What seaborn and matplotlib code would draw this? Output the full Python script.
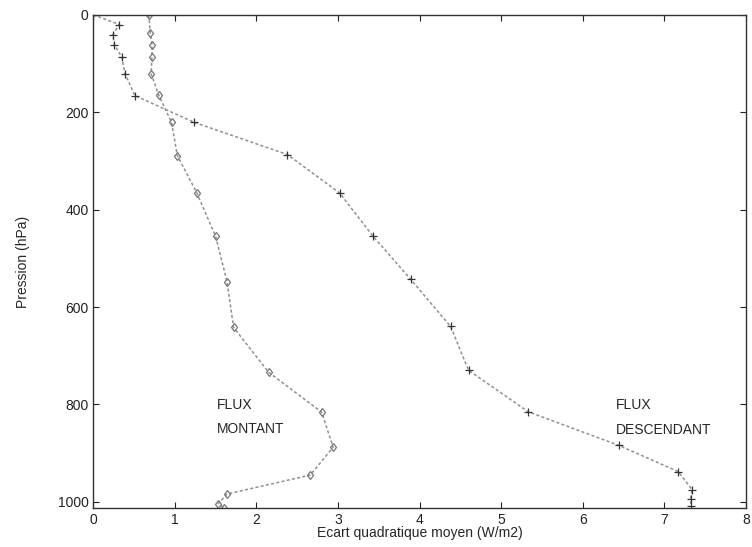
import matplotlib
matplotlib.use("Agg")
import matplotlib.pyplot as plt
import seaborn as sns

# FLUX MONTANT (diamonds)
pres_montant = [0, 38, 62, 86, 121, 164, 221, 289, 366, 455, 548, 642, 734,
                816, 888, 945, 984, 1004, 1012]
rms_montant = [0.68, 0.70, 0.72, 0.72, 0.71, 0.80, 0.96, 1.03, 1.27, 1.50,
               1.64, 1.72, 2.15, 2.80, 2.94, 2.66, 1.64, 1.53, 1.60]

# FLUX DESCENDANT (plus)
pres_desc = [0, 20, 41, 62, 87, 121, 166, 221, 287, 366, 455, 543, 640, 730,
             815, 884, 938, 975, 995, 1008]
rms_desc = [0.0, 0.32, 0.24, 0.26, 0.35, 0.39, 0.51, 1.24, 2.38, 3.02, 3.43,
            3.89, 4.38, 4.60, 5.33, 6.44, 7.17, 7.34, 7.32, 7.33]

xticks = [0, 1, 2, 3, 4, 5, 6, 7, 8]
yticks = [0, 200, 400, 600, 800, 1000]

sns.set_style("ticks")
plt.rcParams['font.family'] = ['Liberation Sans', 'DejaVu Sans']

fig = plt.figure(figsize=(7.52, 5.47), dpi=100)
ax = fig.add_axes([0.124, 0.071, 0.868, 0.902])

sns.lineplot(x=rms_montant, y=pres_montant, sort=False, estimator=None, ax=ax,
             color='#909090', linestyle=(0, (2, 1.5)), linewidth=1.1,
             marker='d', markersize=4.5, markerfacecolor='none',
             markeredgecolor='#777777', markeredgewidth=0.9)
sns.lineplot(x=rms_desc, y=pres_desc, sort=False, estimator=None, ax=ax,
             color='#909090', linestyle=(0, (2, 1.5)), linewidth=1.1,
             marker='+', markersize=6, markeredgecolor='#333333',
             markeredgewidth=0.9)

ax.set_xlim(0, 8)
ax.set_ylim(1013, 0)
ax.set_xticks(xticks)
ax.set_yticks(yticks)
ax.tick_params(direction='in', top=True, right=True, length=4, width=0.8,
               labelsize=10, colors='#222222')
for s in ax.spines.values():
    s.set_linewidth(1.0)
    s.set_color('#333333')

ax.set_xlabel('Ecart quadratique moyen (W/m2)', fontsize=10, labelpad=-1)
ax.set_ylabel('Pression (hPa)', fontsize=10, labelpad=20)

ax.text(1.51, 826, 'FLUX\n\nMONTANT', fontsize=10, va='center', ha='left',
        linespacing=0.85)
ax.text(6.40, 827, 'FLUX\n\nDESCENDANT', fontsize=10, va='center', ha='left',
        linespacing=0.85)

plt.savefig('out.png', dpi=100)
